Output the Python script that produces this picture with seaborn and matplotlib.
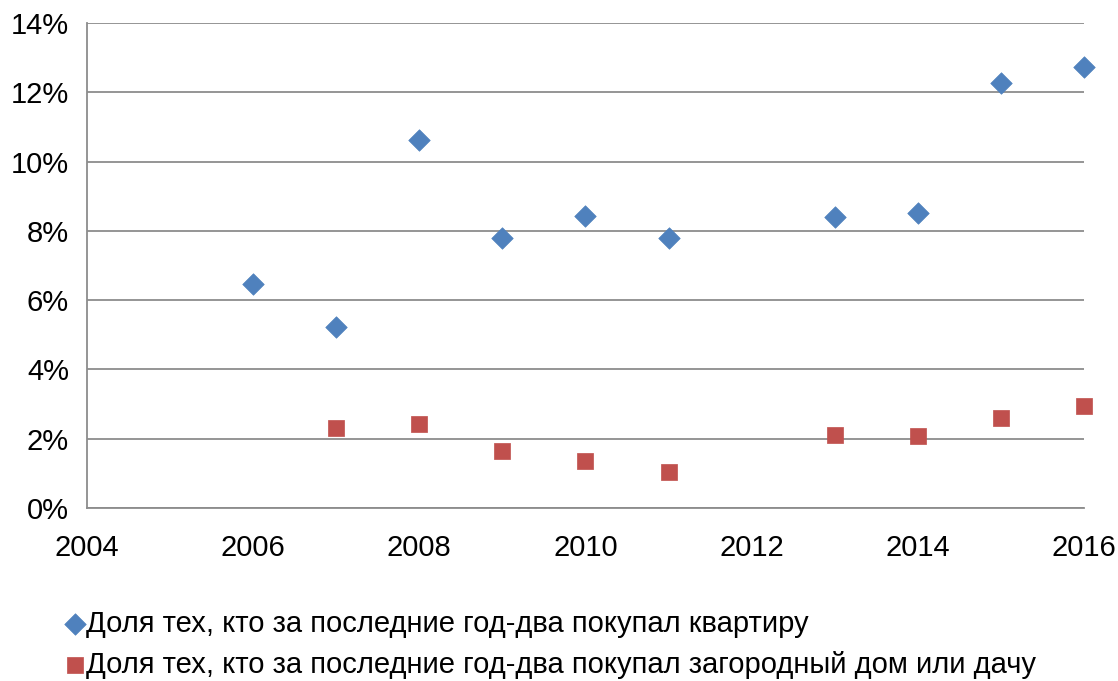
import pandas as pd
import numpy as np
import seaborn as sns
import matplotlib.pyplot as plt
from matplotlib.ticker import PercentFormatter, MultipleLocator

# data
years_flat = [2006, 2007, 2008, 2009, 2010, 2011, 2013, 2014, 2015, 2016]
share_flat = [6.48, 5.22, 10.64, 7.80, 8.43, 7.80, 8.40, 8.52, 12.28, 12.74]
years_house = [2007, 2008, 2009, 2010, 2011, 2013, 2014, 2015, 2016]
share_house = [2.32, 2.44, 1.64, 1.35, 1.03, 2.12, 2.07, 2.61, 2.95]

label_flat = 'Доля тех, кто за последние год-два покупал квартиру'
label_house = 'Доля тех, кто за последние год-два покупал загородный дом или дачу'

df_flat = pd.DataFrame({'year': years_flat, 'share': share_flat})
df_house = pd.DataFrame({'year': years_house, 'share': share_house})

sns.set_theme(style='white')
plt.rcParams['font.family'] = ['Liberation Sans', 'DejaVu Sans']
plt.rcParams['text.color'] = 'black'

fig = plt.figure(figsize=(11.18, 6.81), dpi=100)
ax = fig.add_axes([0.0778, 0.254, 0.8918, 0.712])

sns.scatterplot(data=df_flat, x='year', y='share', ax=ax, marker='D', s=120,
                color='#4F81BD', edgecolor='#4F81BD', linewidth=0.5, label=label_flat,
                zorder=3, clip_on=False)
sns.scatterplot(data=df_house, x='year', y='share', ax=ax, marker='s', s=120,
                color='#C0504D', edgecolor='#C0504D', linewidth=0.5, label=label_house,
                zorder=3, clip_on=False)

ax.set_xlim(2004, 2016)
ax.set_ylim(0, 14)
ax.xaxis.set_major_locator(MultipleLocator(2))
ax.yaxis.set_major_locator(MultipleLocator(2))
ax.yaxis.set_major_formatter(PercentFormatter(decimals=0))
ax.set_xlabel('')
ax.set_ylabel('')

ax.grid(axis='y', color='#8C8C8C', linewidth=1.3)
ax.set_axisbelow(True)
for side in ['top', 'right']:
    ax.spines[side].set_visible(False)
for side in ['left', 'bottom']:
    ax.spines[side].set_color('#8C8C8C')
    ax.spines[side].set_linewidth(1.3)

ax.tick_params(axis='both', labelsize=21, colors='#8C8C8C', labelcolor='black',
               length=7, width=1.3, direction='out')
ax.tick_params(axis='x', pad=12)
ax.tick_params(axis='y', pad=6)

handles, labels = ax.get_legend_handles_labels()
ax.get_legend().remove()
leg = fig.legend(handles, labels, loc='upper left', bbox_to_anchor=(0.046, 0.122),
                 frameon=False, fontsize=21, handletextpad=0.0, handlelength=0.8,
                 labelspacing=0.45, markerscale=1.0, borderaxespad=0)
for t in leg.get_texts():
    t.set_color('black')

plt.savefig('out.png', dpi=100)
